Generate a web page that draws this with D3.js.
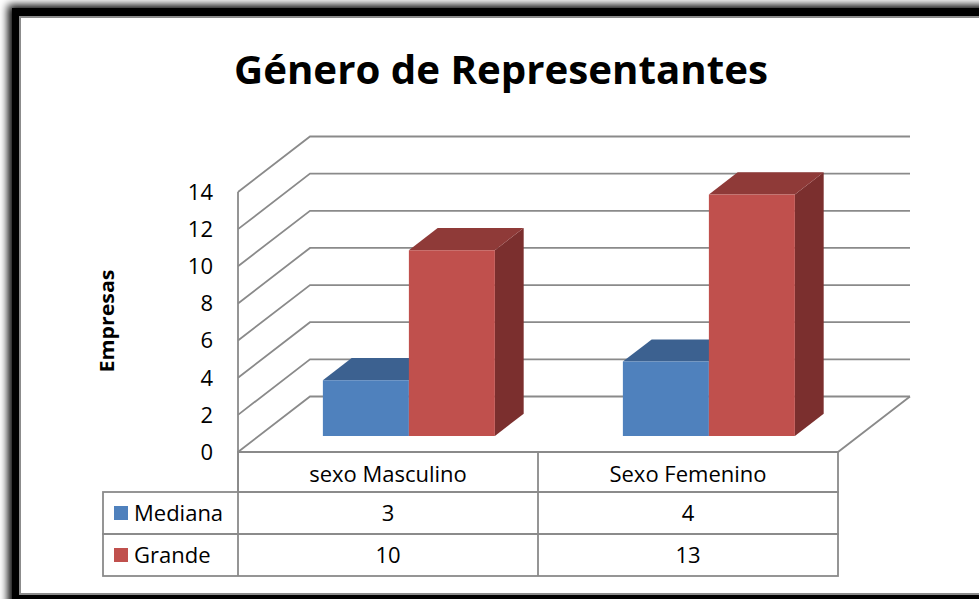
<!DOCTYPE html>
<html>
<head>
  <meta charset="utf-8">
  <script src="https://d3js.org/d3.v7.min.js"></script>
  <style>
    body { margin: 0; background: #fff; }
    text { font-family: "Open Sans", sans-serif; fill: #000; }
  </style>
</head>
<body>
  <svg id="chart" width="979" height="599"></svg>

  <script>
    // data
    const categories = ["sexo Masculino", "Sexo Femenino"];
    const series = ["Mediana", "Grande"];
    const medianaValues = [3, 4];
    const grandeValues = [10, 13];
    const yTicks = [0, 2, 4, 6, 8, 10, 12, 14];

    const values = { "Mediana": medianaValues, "Grande": grandeValues };
    const colors = {
      "Mediana": { front: "#4f81bd", top: "#3c6190", side: "#375a85" },
      "Grande": { front: "#c0504d", top: "#8f3a38", side: "#7b2f2e" }
    };

    const svg = d3.select("#chart");
    const gridColor = "#8a8a8a";

    // frame with shadow
    const defs = svg.append("defs");
    defs.append("filter").attr("id", "blur")
      .attr("x", "-5%").attr("y", "-5%").attr("width", "110%").attr("height", "110%")
      .append("feGaussianBlur").attr("stdDeviation", 4);

    svg.append("rect")
      .attr("x", 8).attr("y", 5).attr("width", 1010).attr("height", 620)
      .attr("fill", "#000").attr("filter", "url(#blur)");
    svg.append("rect")
      .attr("x", 12).attr("y", 8).attr("width", 1010).attr("height", 620)
      .attr("fill", "#000");
    svg.append("rect")
      .attr("x", 20).attr("y", 17).attr("width", 1000).attr("height", 577)
      .attr("fill", "#fff").attr("stroke", "#8c8c8c").attr("stroke-width", 2);

    // title
    svg.append("text")
      .attr("x", 501).attr("y", 84)
      .attr("text-anchor", "middle")
      .attr("font-size", 39).attr("font-weight", "bold")
      .attr("textLength", 534).attr("lengthAdjust", "spacingAndGlyphs")
      .text("Género de Representantes");

    // 3D geometry
    const depthX = 72, depthY = 55.5;
    const y = d3.scaleLinear().domain([0, 14]).range([452, 192]);
    const x = d3.scaleBand().domain(categories).range([238, 838]);
    const xs = d3.scaleBand().domain(series).range([64, 236]);
    const barDepth = [0.29, 0.69];

    const proj = (px, v, d) => [px + d * depthX, y(v) - d * depthY];
    const line = d3.line();

    const g = svg.append("g");

    // side wall + back wall gridlines
    g.selectAll("path.grid").data(yTicks).join("path")
      .attr("class", "grid")
      .attr("fill", "none").attr("stroke", gridColor).attr("stroke-width", 1.8)
      .attr("d", v => line([proj(238, v, 0), proj(238, v, 1), proj(838, v, 1)]));

    // front vertical axis line
    g.append("path")
      .attr("fill", "none").attr("stroke", gridColor).attr("stroke-width", 1.8)
      .attr("d", line([[238, y(14)], [238, y(0)]]));

    // floor front and right edges
    g.append("path")
      .attr("fill", "none").attr("stroke", gridColor).attr("stroke-width", 1.8)
      .attr("d", line([proj(238, 0, 0), proj(838, 0, 0), proj(838, 0, 1)]));

    // y tick labels
    g.selectAll("text.tick").data(yTicks).join("text")
      .attr("class", "tick")
      .attr("x", 213).attr("y", v => y(v))
      .attr("dy", "0.36em")
      .attr("text-anchor", "end")
      .attr("font-size", 22)
      .text(v => v);

    // y axis title
    g.append("text")
      .attr("transform", "translate(114,321) rotate(-90)")
      .attr("text-anchor", "middle")
      .attr("font-size", 20).attr("font-weight", "bold")
      .attr("textLength", 103).attr("lengthAdjust", "spacingAndGlyphs")
      .text("Empresas");

    // bars
    const bars = [];
    series.forEach(s => {
      categories.forEach((c, i) => {
        bars.push({ s: s, c: c, v: values[s][i] });
      });
    });

    bars.forEach(b => {
      const x0 = x(b.c) + xs(b.s);
      const x1 = x0 + xs.bandwidth();
      const d0 = barDepth[0], d1 = barDepth[1];
      const col = colors[b.s];
      const bg = g.append("g");
      // right side
      bg.append("path").attr("fill", col.side)
        .attr("d", line([proj(x1, 0, d0), proj(x1, 0, d1), proj(x1, b.v, d1), proj(x1, b.v, d0)]) + "Z");
      // top
      bg.append("path").attr("fill", col.top)
        .attr("d", line([proj(x0, b.v, d0), proj(x1, b.v, d0), proj(x1, b.v, d1), proj(x0, b.v, d1)]) + "Z");
      // front
      bg.append("path").attr("fill", col.front)
        .attr("d", line([proj(x0, 0, d0), proj(x1, 0, d0), proj(x1, b.v, d0), proj(x0, b.v, d0)]) + "Z");
    });

    // data table
    const tableTop = 452, headerH = 40, rowH = 42;
    const legendLeft = 103;
    const t = svg.append("g").attr("stroke", gridColor).attr("stroke-width", 1.8).attr("fill", "none");

    t.append("rect").attr("x", 238).attr("y", tableTop).attr("width", 600).attr("height", headerH);
    series.forEach((s, i) => {
      t.append("rect")
        .attr("x", legendLeft).attr("y", tableTop + headerH + i * rowH)
        .attr("width", 838 - legendLeft).attr("height", rowH);
    });
    categories.forEach(c => {
      t.append("line")
        .attr("x1", x(c)).attr("x2", x(c))
        .attr("y1", tableTop).attr("y2", tableTop + headerH + series.length * rowH);
    });

    svg.selectAll("text.cat").data(categories).join("text")
      .attr("class", "cat")
      .attr("x", c => x(c) + x.bandwidth() / 2)
      .attr("y", tableTop + headerH / 2 + 2)
      .attr("dy", "0.36em")
      .attr("text-anchor", "middle")
      .attr("font-size", 22)
      .text(c => c);

    series.forEach((s, i) => {
      const rowY = tableTop + headerH + i * rowH + rowH / 2;
      svg.append("rect")
        .attr("x", 114).attr("y", rowY - 7).attr("width", 14).attr("height", 14)
        .attr("fill", colors[s].front);
      svg.append("text")
        .attr("x", 134).attr("y", rowY).attr("dy", "0.36em")
        .attr("font-size", 22)
        .text(s);
      categories.forEach((c, j) => {
        svg.append("text")
          .attr("x", x(c) + x.bandwidth() / 2).attr("y", rowY).attr("dy", "0.36em")
          .attr("text-anchor", "middle")
          .attr("font-size", 22)
          .text(values[s][j]);
      });
    });
  </script>
</body>
</html>
